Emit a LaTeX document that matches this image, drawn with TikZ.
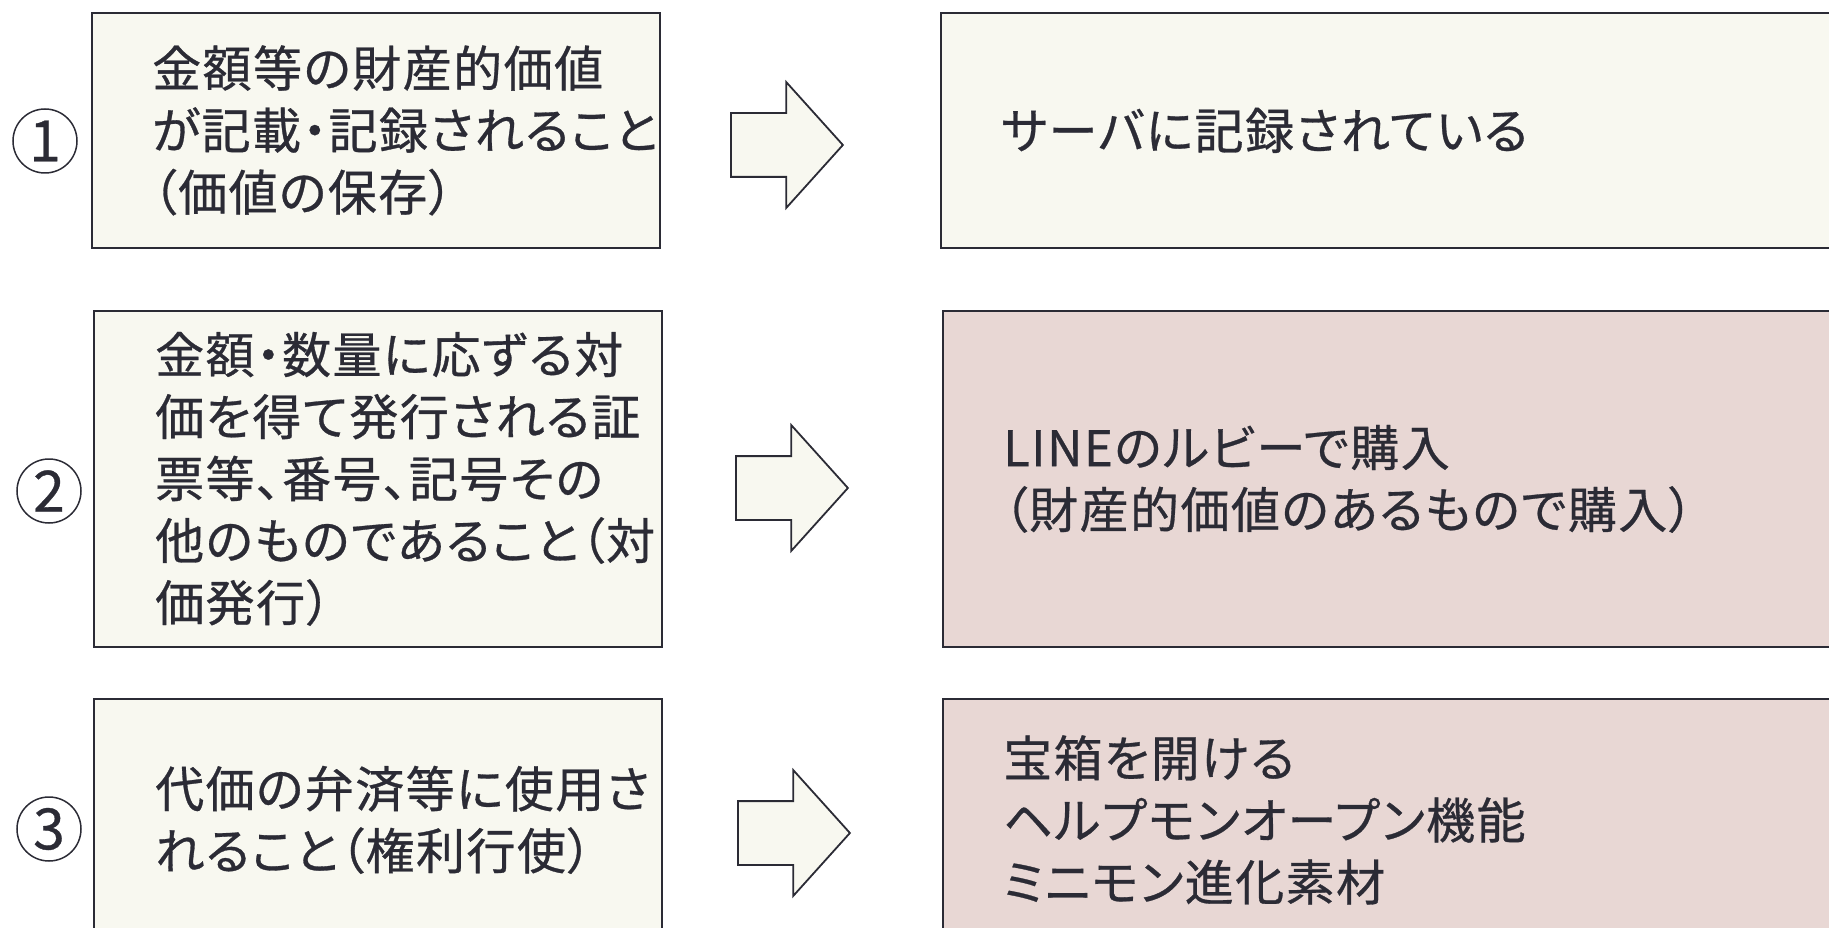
\documentclass[tikz,border=0pt]{standalone}
\usepackage{fontspec}
\usepackage{tikz}
\usetikzlibrary{shapes.arrows,positioning}
\newfontfamily\jpfont[RawFeature=+palt,FakeBold=0.6,LetterSpace=3]{Noto Sans CJK JP}
\definecolor{creamfill}{RGB}{248,248,240}
\definecolor{pinkfill}{RGB}{232,215,212}
\definecolor{inkline}{RGB}{43,43,53}
\tikzstyle{box}=[draw=inkline,line width=1.8pt,rectangle,anchor=north west,inner sep=0pt]
\tikzstyle{boxtext}=[anchor=west,align=left,inner sep=0pt,text=inkline,font=\jpfont\fontsize{49pt}{62pt}\selectfont]
\tikzstyle{numcircle}=[circle,draw=inkline,line width=1.5pt,minimum size=64pt,inner sep=0pt,text=inkline,font=\jpfont\fontsize{57pt}{57pt}\selectfont]
\tikzstyle{blockarrow}=[single arrow,draw=inkline,line width=1.8pt,fill=creamfill,anchor=tail,minimum height=112pt,minimum width=124pt,single arrow head extend=31pt,single arrow tip angle=96,inner xsep=0pt,inner ysep=31pt]

\begin{document}
\begin{tikzpicture}[x=1pt,y=-1pt]
    \clip[use as bounding box] (0,0) rectangle (1829,928);
    % First we draw the boxes, left and right
    \foreach \pos/\name/\h/\col in {{(91,12)/L1/235/creamfill}, {(93,310)/L2/336/creamfill}, {(93,698)/L3/242/creamfill}}
        \node[box,fill=\col,minimum width=568pt,minimum height=\h pt] (\name) at \pos {};
    \foreach \pos/\name/\h/\col in {{(940,12)/R1/235/creamfill}, {(942,310)/R2/336/pinkfill}, {(942,698)/R3/242/pinkfill}}
        \node[box,fill=\col,minimum width=980pt,minimum height=\h pt] (\name) at \pos {};

    % numbers in circles
    \foreach \pos/\n in {{(45,141)/1}, {(49,491)/2}, {(49,829)/3}}
        \node[numcircle] (N\n) at \pos {\n};

    % block arrows between the columns
    \foreach \pos/\name in {{(730,145)/A1}, {(735,488)/A2}, {(737,833)/A3}}
        \node[blockarrow] (\name) at \pos {};

    % texts
    \node[boxtext] (T1) at ([xshift=61pt]L1.west) {金額等の財産的価値\\が記載・記録されること\\（価値の保存）};
    \node[boxtext] (T2) at ([xshift=62pt]L2.west) {金額・数量に応ずる対\\価を得て発行される証\\票等、番号、記号その\\他のものであること（対\\価発行）};
    \node[boxtext] (T3) at ([xshift=62pt]L3.west) {代価の弁済等に使用さ\\れること（権利行使）};
    \node[boxtext] (U1) at ([xshift=61pt]R1.west) {サーバに記録されている};
    \node[boxtext] (U2) at ([xshift=61pt]R2.west) {LINEのルビーで購入\\（財産的価値のあるもので購入）};
    \node[boxtext] (U3) at ([xshift=61pt]R3.west) {宝箱を開ける\\ヘルプモンオープン機能\\ミニモン進化素材};
\end{tikzpicture}
\end{document}
